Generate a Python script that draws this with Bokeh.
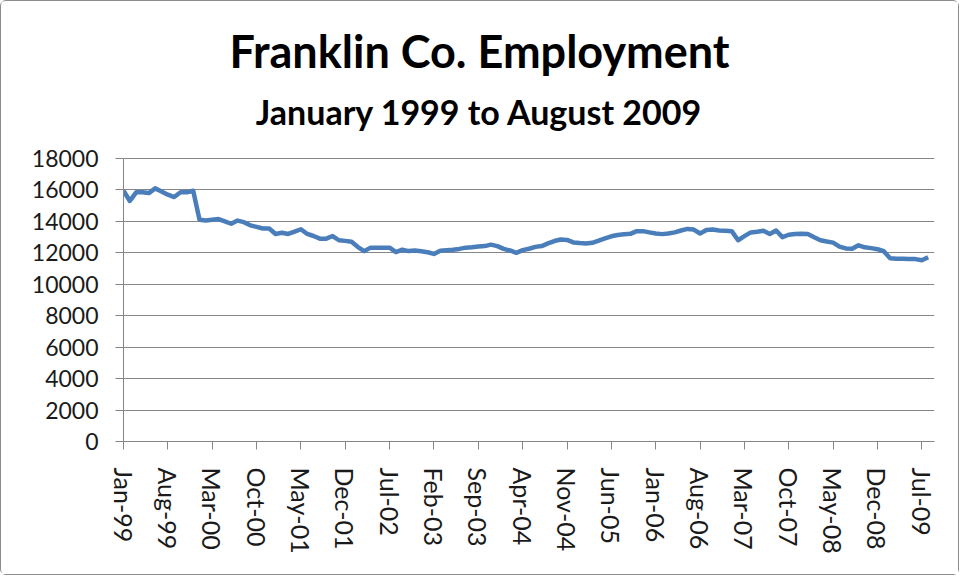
from bokeh.plotting import figure
from bokeh.models import Range1d, FixedTicker, Label
from bokeh.embed import file_html
from bokeh.resources import INLINE

# ---- data ----
month_names = ["Jan", "Feb", "Mar", "Apr", "May", "Jun",
               "Jul", "Aug", "Sep", "Oct", "Nov", "Dec"]
months = [f"{month_names[m]}-{(1999 + y) % 100:02d}"
          for y in range(11) for m in range(12)][:128]   # Jan-99 .. Aug-09

employment = [
    15950, 15300, 15850, 15850, 15800, 16100, 15900, 15700, 15550, 15850, 15850, 15950,  # 1999
    14100, 14050, 14100, 14150, 14000, 13850, 14050, 13950, 13750, 13650, 13550, 13550,  # 2000
    13200, 13280, 13200, 13350, 13500, 13200, 13070, 12900, 12900, 13070, 12800, 12760,  # 2001
    12700, 12370, 12110, 12330, 12330, 12330, 12330, 12050, 12200, 12110, 12150, 12100,  # 2002
    12040, 11930, 12130, 12170, 12200, 12250, 12330, 12350, 12400, 12430, 12520, 12430,  # 2003
    12250, 12150, 12000, 12170, 12260, 12380, 12430, 12600, 12750, 12850, 12820, 12660,  # 2004
    12620, 12600, 12640, 12780, 12920, 13050, 13130, 13180, 13210, 13380, 13380, 13300,  # 2005
    13230, 13190, 13230, 13300, 13420, 13520, 13480, 13230, 13450, 13480, 13420, 13400,  # 2006
    13380, 12800, 13060, 13300, 13340, 13400, 13200, 13420, 13000, 13150, 13200, 13220,  # 2007
    13200, 12990, 12800, 12720, 12650, 12400, 12280, 12260, 12480, 12350, 12300, 12230,  # 2008
    12100, 11650, 11620, 11620, 11610, 11600, 11530, 11720,                              # 2009
]
y_ticks = [0, 2000, 4000, 6000, 8000, 10000, 12000, 14000, 16000, 18000]
x_tick_idx = list(range(0, len(months), 7))

title_text = "Franklin Co. Employment"
subtitle_text = "January 1999 to August 2009"

idx = list(range(len(employment)))

# layout: value axis occupies the lower 283 px of the frame; titles sit in the space above it
AXIS_PX = 283
FRAME_PX = 421
Y_MAX = 18000
y_top = Y_MAX * FRAME_PX / AXIS_PX
n = len(months)


def y_at(px_above_bottom):
    return Y_MAX * px_above_bottom / AXIS_PX


def x_at(px_from_left):
    return n * px_from_left / 811


p = figure(
    output_backend="svg", toolbar_location=None,
    frame_width=811, frame_height=FRAME_PX,
    min_border_left=122, min_border_right=24,
    min_border_top=19, min_border_bottom=133,
    x_range=Range1d(0, n), y_range=Range1d(0, y_top),
    background_fill_color="white", border_fill_color="white",
)
p.styles = {"border": "1px solid #8c8c8c", "border-radius": "6px"}
p.outline_line_color = None

p.add_layout(Label(x=x_at(356), y=y_at(391), text=title_text,
                   text_align="center", text_baseline="middle",
                   text_font="Lato", text_font_size="45px", text_font_style="bold",
                   text_color="black"))
p.add_layout(Label(x=x_at(356), y=y_at(330), text=subtitle_text,
                   text_align="center", text_baseline="middle",
                   text_font="Lato", text_font_size="34px", text_font_style="bold",
                   text_color="black"))

p.line(idx, employment, line_color="#4a7ebb", line_width=4.5, line_join="round")

grid_col = "#868686"
p.xgrid.visible = False
p.ygrid.ticker = FixedTicker(ticks=y_ticks)
p.ygrid.grid_line_color = grid_col
p.ygrid.grid_line_width = 1

p.yaxis.ticker = FixedTicker(ticks=y_ticks)
p.yaxis.bounds = (0, Y_MAX)
p.yaxis.axis_line_color = grid_col
p.yaxis.major_tick_line_color = grid_col
p.yaxis.major_tick_in = 0
p.yaxis.major_tick_out = 8
p.yaxis.minor_tick_line_color = None
p.yaxis.major_label_text_font = "Lato"
p.yaxis.major_label_text_font_size = "23px"
p.yaxis.major_label_text_color = "#1a1a1a"
p.yaxis.major_label_standoff = 17

p.xaxis.ticker = FixedTicker(ticks=x_tick_idx)
p.xaxis.major_label_overrides = {i: months[i] for i in x_tick_idx}
p.xaxis.major_label_orientation = "vertical"
p.xaxis.axis_line_color = grid_col
p.xaxis.major_tick_line_color = grid_col
p.xaxis.major_tick_in = 0
p.xaxis.major_tick_out = 8
p.xaxis.minor_tick_line_color = None
p.xaxis.major_label_text_font = "Lato"
p.xaxis.major_label_text_font_size = "25px"
p.xaxis.major_label_text_color = "#1a1a1a"
p.xaxis.major_label_standoff = 18

open("out.html", "w").write(file_html(p, INLINE))
